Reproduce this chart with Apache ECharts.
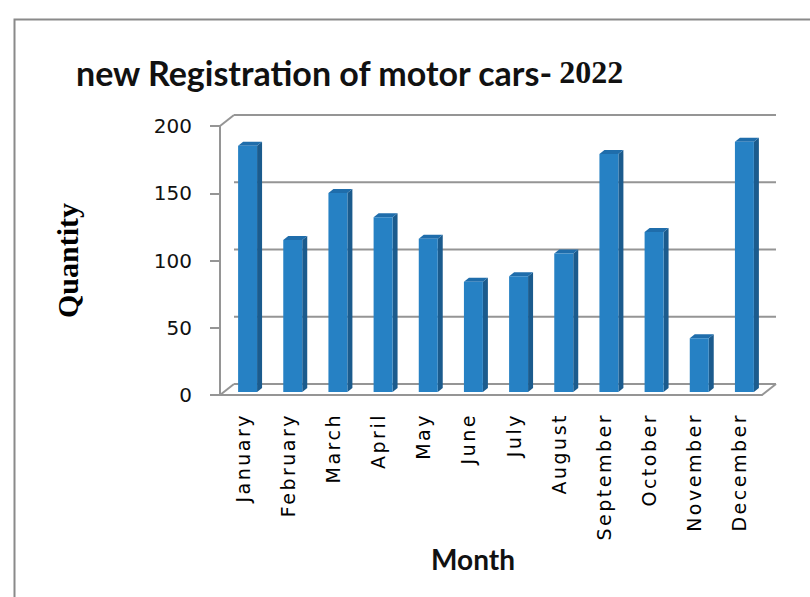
<!DOCTYPE html>
<html>
<head>
<meta charset="utf-8">
<script src="https://cdn.jsdelivr.net/npm/echarts@6/dist/echarts.min.js"></script>
<style>
  html, body { margin: 0; padding: 0; background: #fff; }
  #chart { width: 810px; height: 597px; }
  /* Excel spreads the month labels out a lot */
  text[style*="Verdana"], text[font-family*="Verdana"] { letter-spacing: 2.5px; }
</style>
</head>
<body>
<div id="chart"></div>
<script>
const months = ['January', 'February', 'March', 'April', 'May', 'June', 'July',
  'August', 'September', 'October', 'November', 'December'];
const quantities = [183, 113, 148, 130, 114, 82, 86, 103, 177, 119, 40, 186];
const yTicks = [0, 50, 100, 150, 200];

// depth of the back wall and of the bars, in px
const WALL_DX = 14, WALL_DY = -11;
const BAR_FX = 5, BAR_FY = -3;
const BAR_DX = 5, BAR_DY = -4;

const chart = echarts.init(document.getElementById('chart'), null, { renderer: 'svg' });

function renderWall(params, api) {
  const cs = params.coordSys;
  const v = api.value(1);
  const y = api.coord([0, v])[1];
  const lineStyle = { stroke: '#959595', lineWidth: 2 };
  const left = cs.x, right = cs.x + cs.width;
  const children = [{
    type: 'line',
    shape: { x1: left + WALL_DX, y1: y + WALL_DY, x2: right + WALL_DX, y2: y + WALL_DY },
    style: lineStyle
  }];
  if (v === 0) {
    children.push({ type: 'line', shape: { x1: left, y1: y, x2: left + WALL_DX, y2: y + WALL_DY }, style: lineStyle });
    children.push({ type: 'line', shape: { x1: right, y1: y, x2: right + WALL_DX, y2: y + WALL_DY }, style: lineStyle });
  }
  if (v === 200) {
    children.push({ type: 'line', shape: { x1: left, y1: y, x2: left + WALL_DX, y2: y + WALL_DY }, style: lineStyle });
  }
  return { type: 'group', children: children };
}

function renderBar(params, api) {
  const i = api.value(0);
  const v = api.value(1);
  const base = api.coord([i, 0]);
  const top = api.coord([i, v]);
  const bw = api.size([1, 0])[0] * 0.42;
  const x0 = base[0] - bw / 2 + BAR_FX;
  const x1 = x0 + bw;
  const yb = base[1] + BAR_FY;
  const yt = top[1] + BAR_FY;
  return {
    type: 'group',
    children: [
      { type: 'polygon', shape: { points: [[x1, yb], [x1 + BAR_DX, yb + BAR_DY], [x1 + BAR_DX, yt + BAR_DY], [x1, yt]] },
        style: { fill: '#1b5b8d' } },
      { type: 'polygon', shape: { points: [[x0, yt], [x1, yt], [x1 + BAR_DX, yt + BAR_DY], [x0 + BAR_DX, yt + BAR_DY]] },
        style: { fill: '#1f6dab' } },
      { type: 'rect', shape: { x: x0, y: yt, width: x1 - x0, height: yb - yt },
        style: { fill: '#2681c4' } }
    ]
  };
}

const option = {
  animation: false,
  backgroundColor: '#fff',
  graphic: [{
    type: 'rect',
    left: 12, top: 17,
    shape: { width: 820, height: 600 },
    style: { fill: 'none', stroke: '#8a8a8a', lineWidth: 2 }
  }],
  title: {
    left: 71,
    top: 50,
    text: '{a|new Registration of motor cars-} {b|2022}',
    textStyle: {
      rich: {
        a: { fontFamily: 'Lato', fontWeight: 'bold', fontSize: 34, color: '#111' },
        b: { fontFamily: 'Liberation Serif', fontSize: 32, color: '#111' }
      }
    }
  },
  grid: { left: 220, right: 48, top: 126, bottom: 202 },
  xAxis: {
    type: 'category',
    data: months,
    name: 'Month',
    nameLocation: 'middle',
    nameGap: 150,
    nameTextStyle: { fontFamily: 'Lato', fontWeight: 'bold', fontSize: 28, color: '#111', padding: [0, 36, 0, 0] },
    axisLine: { lineStyle: { color: '#959595', width: 2 } },
    axisTick: { length: 8, lineStyle: { color: '#959595', width: 2 } },
    axisLabel: {
      rotate: 90, margin: 18, interval: 0,
      fontFamily: 'DejaVu Sans, Verdana', fontSize: 19, color: '#000'
    }
  },
  yAxis: {
    type: 'value',
    min: 0, max: 200, interval: 50,
    name: 'Quantity',
    nameLocation: 'middle',
    nameRotate: 90,
    nameGap: 138,
    nameTextStyle: { fontFamily: 'Liberation Serif', fontWeight: 'bold', fontSize: 30, color: '#000' },
    splitLine: { show: false },
    axisLine: { show: true, lineStyle: { color: '#959595', width: 2 } },
    axisTick: { show: true, length: 10, lineStyle: { color: '#959595', width: 2 } },
    axisLabel: { margin: 28, fontFamily: 'DejaVu Sans', fontSize: 20, color: '#111' }
  },
  series: [
    {
      type: 'custom',
      silent: true,
      clip: false,
      z: 1,
      renderItem: renderWall,
      data: yTicks.map(v => [0, v])
    },
    {
      type: 'custom',
      silent: true,
      clip: false,
      z: 2,
      renderItem: renderBar,
      data: quantities.map((q, i) => [i, q])
    }
  ]
};

chart.setOption(option);
</script>
</body>
</html>
